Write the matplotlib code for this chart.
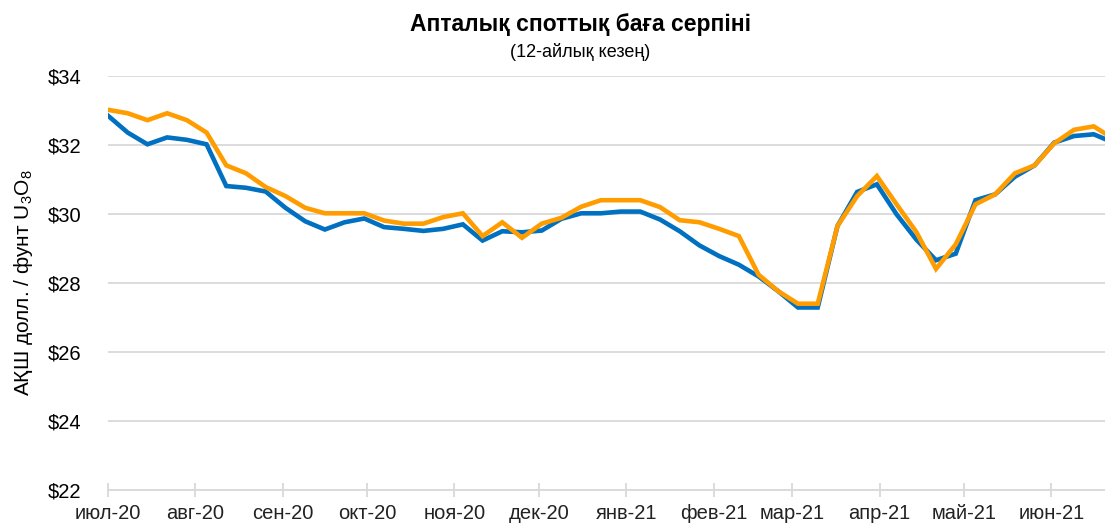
import numpy as np
import matplotlib
matplotlib.use('Agg')
import matplotlib.pyplot as plt
import matplotlib.dates as mdates
import pandas as pd

plt.rcParams['font.family'] = ['Liberation Sans', 'DejaVu Sans']
plt.rcParams['mathtext.fontset'] = 'custom'
plt.rcParams['mathtext.rm'] = 'Liberation Sans'
plt.rcParams['mathtext.it'] = 'Liberation Sans'

######## Dati (prezzi spot settimanali)

data_inizio = '2020-07-01'
n_settimane = 52

serie_blu = [32.85, 32.36, 32.02, 32.22, 32.15, 32.02, 30.81, 30.76, 30.65, 30.18,
             29.79, 29.55, 29.76, 29.87, 29.62, 29.57, 29.51, 29.57, 29.70, 29.23,
             29.50, 29.47, 29.52, 29.86, 30.02, 30.02, 30.07, 30.07, 29.84, 29.50,
             29.09, 28.78, 28.53, 28.19, 27.76, 27.29, 27.29, 29.65, 30.64, 30.86,
             29.99, 29.26, 28.66, 28.85, 30.40, 30.57, 31.08, 31.41, 32.07, 32.26,
             32.31, 32.07]

serie_arancio = [33.02, 32.92, 32.72, 32.92, 32.72, 32.36, 31.41, 31.18, 30.78, 30.52,
                 30.18, 30.02, 30.02, 30.02, 29.81, 29.72, 29.72, 29.91, 30.02, 29.36,
                 29.76, 29.31, 29.72, 29.89, 30.21, 30.40, 30.40, 30.40, 30.20, 29.82,
                 29.76, 29.57, 29.36, 28.24, 27.76, 27.40, 27.40, 29.65, 30.52, 31.10,
                 30.28, 29.48, 28.41, 29.12, 30.28, 30.57, 31.18, 31.41, 32.05, 32.44,
                 32.54, 32.18]

etichette_mesi = ['июл-20', 'авг-20', 'сен-20', 'окт-20', 'ноя-20', 'дек-20',
                  'янв-21', 'фев-21', 'мар-21', 'апр-21', 'май-21', 'июн-21']

valori_y = [22, 24, 26, 28, 30, 32, 34]

titolo = 'Апталық споттық баға серпіні'
sottotitolo = '(12-айлық кезең)'
etichetta_y = 'АҚШ долл. / фунт U$_3$O$_8$'

date = pd.date_range(data_inizio, periods=n_settimane, freq='7D')
inizio_mesi = pd.date_range(data_inizio, periods=len(etichette_mesi), freq='MS')

######## Grafico

fig = plt.figure(figsize=(11.05, 5.30), dpi=100)
ax = fig.add_axes([108/1105, 40/530, 1 - 108/1105, 414/530])

ax.plot(date, serie_blu, color='#0070C0', lw=3.3, solid_joinstyle='miter', zorder=3)
ax.plot(date, serie_arancio, color='#FF9C00', lw=3.3, solid_joinstyle='miter', zorder=4)

ax.set_ylim(22, 34)
ax.set_xlim(pd.Timestamp('2020-07-01'), pd.Timestamp('2021-06-20'))
ax.set_yticks(valori_y)
ax.set_yticklabels(['$' + str(v) for v in valori_y])
ax.set_xticks(inizio_mesi)
ax.set_xticklabels(etichette_mesi)

# griglia orizzontale grigia, solo asse in basso
ax.grid(axis='y', color='#d9d9d9', lw=1.3)
ax.set_axisbelow(True)
for s in ['top', 'right', 'left']:
    ax.spines[s].set_visible(False)
ax.spines['bottom'].set_color('#d9d9d9')
ax.spines['bottom'].set_linewidth(1.3)

ax.tick_params(axis='y', length=0, pad=19, labelsize=14.5, labelcolor='black')
ax.tick_params(axis='x', direction='inout', length=10, width=1.3, color='#d9d9d9',
               pad=5, labelsize=14.5, labelcolor='#222222')

ax.set_ylabel(etichetta_y, fontsize=15, labelpad=9)

fig.text(580/1105, 1 - 25/530, titolo, ha='center', va='center', fontsize=16.5,
         fontweight='bold')
fig.text(580/1105, 1 - 52/530, sottotitolo, ha='center', va='center', fontsize=13)

plt.savefig('out.png', dpi=100)
